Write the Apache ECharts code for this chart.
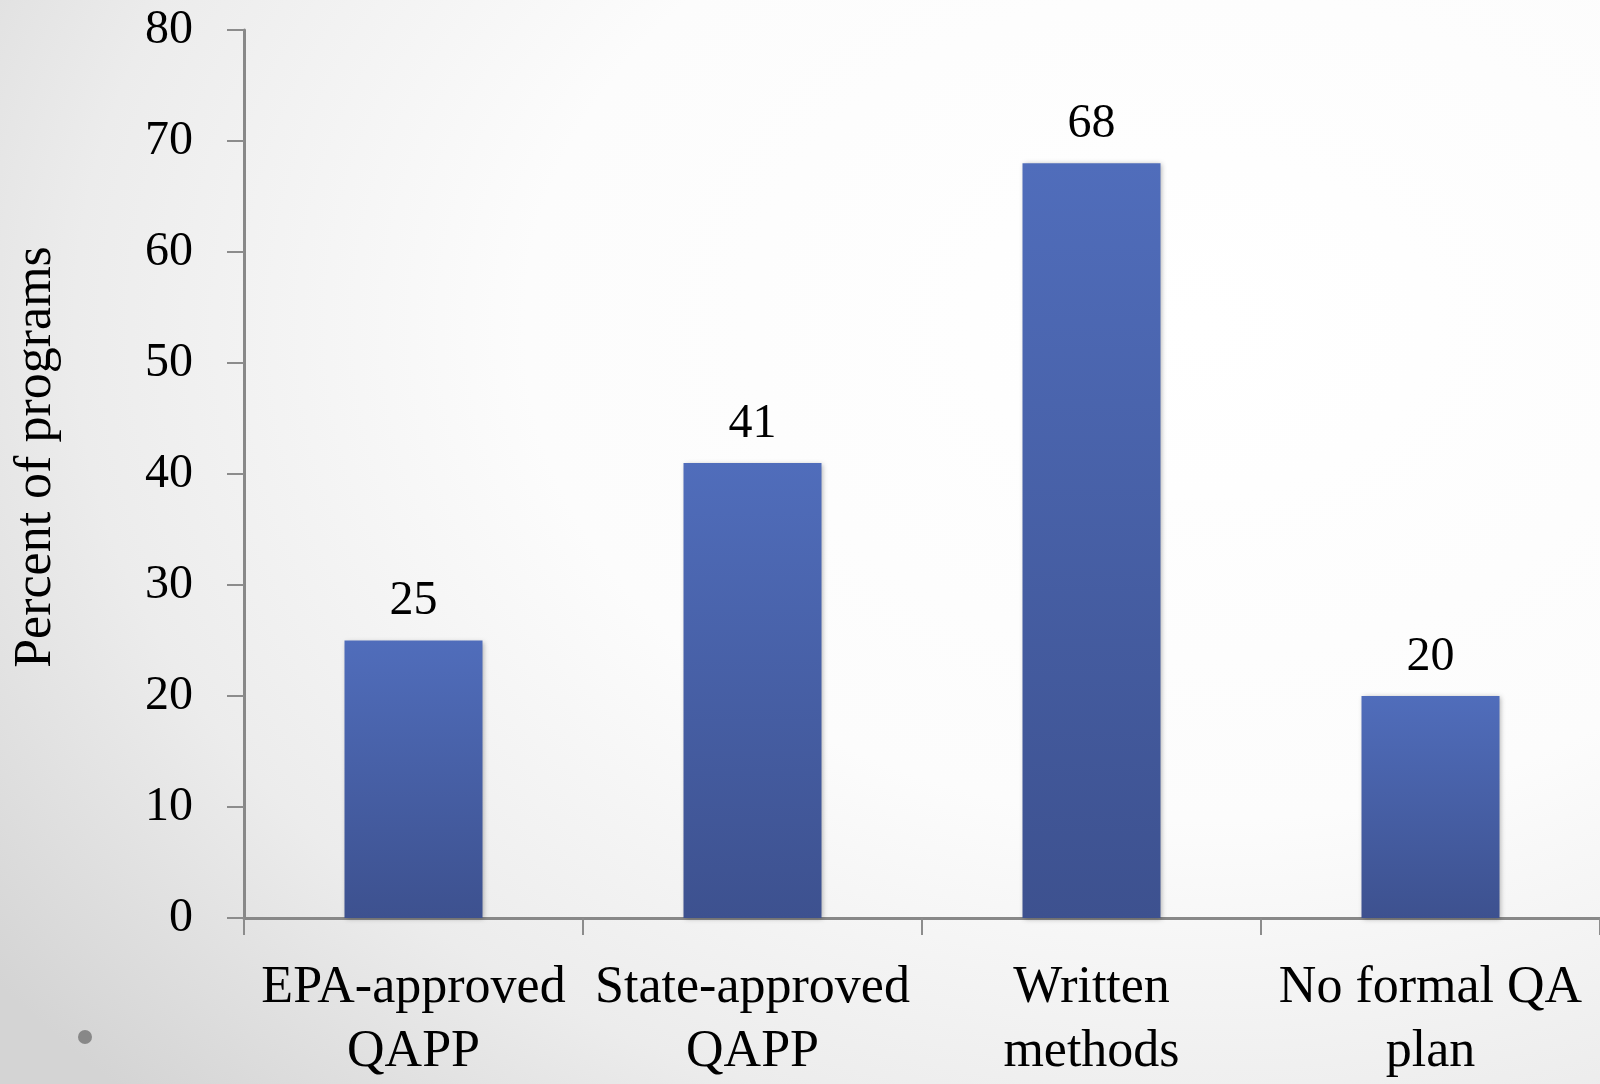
<!DOCTYPE html>
<html>
<head>
<meta charset="utf-8">
<script src="https://cdn.jsdelivr.net/npm/echarts@6/dist/echarts.min.js"></script>
<style>
html,body{margin:0;padding:0;}
body{width:1600px;height:1084px;overflow:hidden;
background: radial-gradient(ellipse 1500px 1100px at 75% 30%, #ffffff 0%, #fcfcfc 45%, #ececec 75%, #d4d4d4 100%);}
#chart{width:1600px;height:1084px;}
</style>
</head>
<body>
<div id="chart"></div>
<script>
const categories = ["EPA-approved\nQAPP", "State-approved\nQAPP", "Written\nmethods", "No formal QA\nplan"];
const values = [25, 41, 68, 20];
const yTicks = [0, 10, 20, 30, 40, 50, 60, 70, 80];
const yAxisTitle = "Percent of programs";

const FONT = "'Liberation Serif', 'Times New Roman', serif";
const chart = echarts.init(document.getElementById('chart'), null, {renderer: 'canvas'});
chart.setOption({
  backgroundColor: 'transparent',
  animation: false,
  grid: {left: 244, top: 30, width: 1369, bottom: 161, containLabel: false},
  xAxis: {
    type: 'category',
    data: categories,
    axisLine: {lineStyle: {color: '#888888', width: 3}},
    axisTick: {show: true, length: 17, alignWithLabel: false, lineStyle: {color: '#8c8c8c', width: 2}},
    axisLabel: {interval: 0, color: '#000', fontFamily: FONT, fontSize: 52, lineHeight: 64, margin: 38}
  },
  yAxis: {
    type: 'value',
    min: yTicks[0], max: yTicks[yTicks.length - 1], interval: 10,
    name: yAxisTitle, nameLocation: 'middle', nameRotate: 90, nameGap: 182,
    nameTextStyle: {color: '#000', fontFamily: FONT, fontSize: 52, padding: [0, 0, 0, 34]},
    splitLine: {show: false},
    axisLine: {show: true, lineStyle: {color: '#888888', width: 3}},
    axisTick: {show: true, length: 17, lineStyle: {color: '#8c8c8c', width: 2}},
    axisLabel: {color: '#000', fontFamily: FONT, fontSize: 48, margin: 51}
  },
  series: [{
    type: 'bar',
    data: values,
    barWidth: 138,
    itemStyle: {
      color: new echarts.graphic.LinearGradient(0, 0, 0, 1, [
        {offset: 0, color: '#506DBB'},
        {offset: 1, color: '#3D518F'}
      ]),
      shadowBlur: 5, shadowColor: 'rgba(0,0,0,0.3)', shadowOffsetX: 1, shadowOffsetY: 1
    },
    label: {show: true, position: 'top', distance: 15, color: '#000', fontFamily: FONT, fontSize: 48}
  }],
  graphic: [{type: 'circle', left: 78, top: 1030, shape: {r: 7}, style: {fill: '#888888'}}]
});
</script>
</body>
</html>
